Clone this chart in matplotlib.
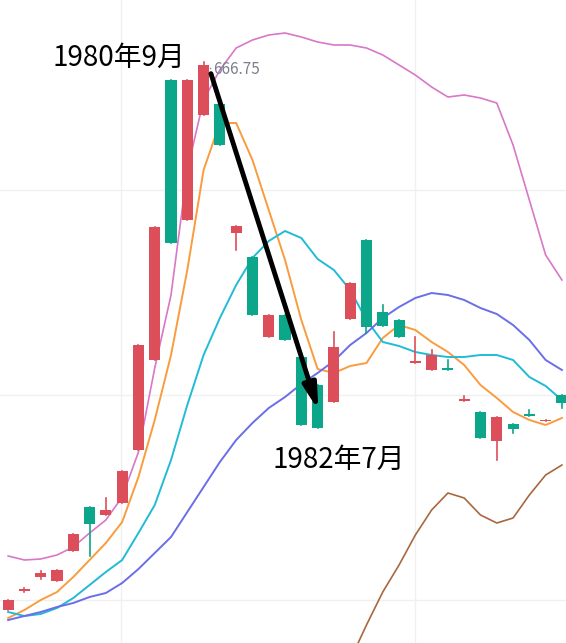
import numpy as np
import matplotlib.pyplot as plt
from matplotlib.patches import Rectangle

plt.rcParams['font.family'] = ['Noto Sans CJK SC', 'DejaVu Sans']

# candle data (open, close, high, low)
opens  = [33, 52, 66, 62, 92, 136, 128, 140, 193, 283, 563, 423, 528, 539, 410, 386, 306, 328, 286, 258, 241, 324, 403, 331, 323, 280, 273, 275, 242, 231, 202, 219, 229, 222, 248]
closes = [43, 54, 70, 73, 109, 119, 133, 172, 298, 416, 400, 563, 578, 498, 417, 328, 328, 303, 218, 215, 296, 360, 316, 317, 306, 282, 288, 273, 244, 205, 226, 214, 227, 223, 240]
highs  = [43, 55, 72, 73, 109, 136, 145, 172, 298, 416, 563, 563, 581, 539, 417, 386, 328, 328, 286, 258, 311, 360, 403, 338, 323, 306, 293, 283, 247, 231, 226, 219, 233, 223, 248]
lows   = [33, 51, 64, 62, 92, 87, 128, 140, 193, 283, 400, 423, 528, 498, 393, 328, 306, 303, 218, 215, 241, 324, 310, 317, 306, 280, 273, 273, 242, 205, 183, 210, 227, 222, 235]

pink   = [87, 83, 84, 88, 96, 110, 123, 146, 191, 275, 348, 473, 543, 573, 595, 603, 608, 610, 606, 601, 598, 598, 595, 588, 578, 568, 556, 546, 548, 545, 540, 498, 443, 388, 363]
orange = [25, 33, 43, 51, 66, 83, 100, 121, 166, 223, 288, 373, 473, 520, 520, 483, 433, 383, 323, 274, 270, 277, 280, 305, 318, 313, 301, 291, 278, 258, 245, 231, 223, 218, 225]
cyan   = [31, 27, 29, 35, 45, 58, 71, 83, 110, 138, 183, 238, 288, 325, 358, 385, 402, 412, 405, 384, 373, 353, 323, 301, 297, 291, 288, 286, 286, 288, 288, 283, 266, 257, 243]
blue   = [23, 27, 31, 36, 40, 46, 50, 60, 74, 90, 106, 131, 156, 181, 203, 220, 235, 246, 259, 270, 282, 298, 310, 325, 336, 345, 350, 348, 343, 335, 329, 318, 303, 283, 273]
brown  = [np.nan] * 21 + [-17, 18, 51, 78, 108, 133, 150, 145, 128, 120, 125, 148, 168, 178]

RED, GREEN = '#DD4E5B', '#0CA68A'

fig = plt.figure(figsize=(5.66, 6.43), dpi=100)
ax = fig.add_axes([0, 0, 1, 1])
n = len(opens)
xs = np.arange(n)
w = 0.68
for i in range(n):
    o, c, h, l = opens[i], closes[i], highs[i], lows[i]
    col = RED if c >= o else GREEN
    ax.plot([i, i], [l, h], color=col, lw=1.2, zorder=3)
    lo, hi = min(o, c), max(o, c)
    ax.add_patch(Rectangle((i - w / 2, lo), w, max(hi - lo, 1.5), color=col, lw=0, zorder=3))

ax.plot(xs, pink, color='#D977C8', lw=1.2, zorder=2)
ax.plot(xs, orange, color='#FA9C3E', lw=1.4, zorder=2)
ax.plot(xs, cyan, color='#21BBD6', lw=1.4, zorder=2)
ax.plot(xs, blue, color='#6A6EE8', lw=1.4, zorder=2)
ax.plot(xs, brown, color='#A8683E', lw=1.2, zorder=2)

for gy in [453, 248, 43]:
    ax.axhline(gy, color='#f0f0f0', lw=1, zorder=0)
for gx in [6.9, 25.0]:
    ax.axvline(gx, color='#f0f0f0', lw=1, zorder=0)

ax.set_xlim(-0.5, 34.25)
ax.set_ylim(0, 643)
ax.axis('off')

ax.text(10.9, 585, '1980年9月', fontsize=20, ha='right', va='center')
ax.plot([11.9, 12.6], [575, 575], ls=':', color='#888888', lw=1)
ax.text(12.6, 574, '666.75', fontsize=11, color='#7a7f8c', ha='left', va='center')
ax.annotate('', xy=(19.1, 230), xytext=(12.4, 572),
            arrowprops=dict(arrowstyle='-|>,head_width=0.4,head_length=1.5', lw=3.5, color='black'))
ax.text(16.2, 183, '1982年7月', fontsize=20, ha='left', va='center')

fig.savefig('out.png')
